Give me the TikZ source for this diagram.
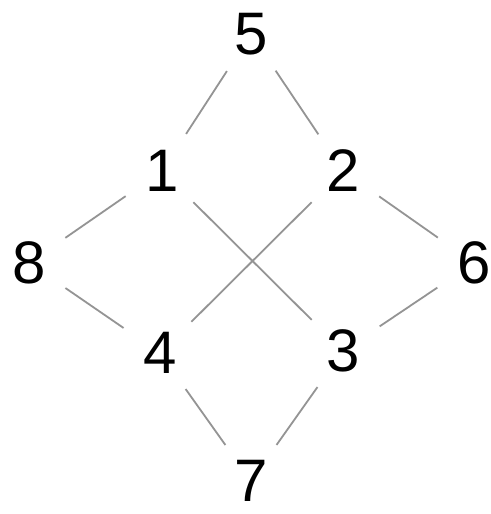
\documentclass[tikz,border=0pt]{standalone}
\usepackage{fontspec}
\setmainfont{Liberation Sans}
\begin{document}
\begin{tikzpicture}[x=1pt,y=-1pt,
  num/.style={circle,minimum size=88pt,inner sep=0pt,font=\fontsize{60}{60}\selectfont},
  edge/.style={draw=black!42,line width=1.8pt}]
\useasboundingbox[fill=white] (0,0) rectangle (490,514);
\node[num] (n5) at (251,34) {5};
\node[num] (n1) at (162,171) {1};
\node[num] (n2) at (343,171) {2};
\node[num] (n8) at (29,263) {8};
\node[num] (n6) at (474,263) {6};
\node[num] (n4) at (160,353) {4};
\node[num] (n3) at (343,351) {3};
\node[num] (n7) at (251,481) {7};
\draw[edge] (n5) -- (n1);
\draw[edge] (n5) -- (n2);
\draw[edge] (n1) -- (n8);
\draw[edge] (n1) -- (n3);
\draw[edge] (n2) -- (n4);
\draw[edge] (n2) -- (n6);
\draw[edge] (n8) -- (n4);
\draw[edge] (n6) -- (n3);
\draw[edge] (n4) -- (n7);
\draw[edge] (n3) -- (n7);
\end{tikzpicture}
\end{document}
